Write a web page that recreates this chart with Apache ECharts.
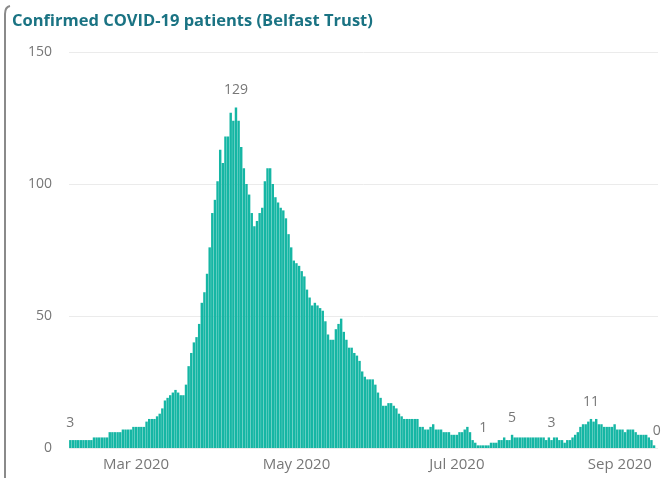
<!DOCTYPE html>
<html>
<head>
<meta charset="utf-8">
<script src="https://cdn.jsdelivr.net/npm/echarts@6/dist/echarts.min.js"></script>
<style>
html,body{margin:0;padding:0;background:#fff;}
#chart{width:661px;height:478px;}
</style>
</head>
<body>
<div id="chart"></div>
<script>
// ---- data ----
const titleText = 'Confirmed COVID-19 patients (Belfast Trust)';
const startDate = '2020-02-05';
const patients = [
  3,3,3,3,3,3,3,3,3,4,
  4,4,4,4,4,6,6,6,6,6,
  7,7,7,7,8,8,8,8,8,10,
  11,11,11,12,13,15,18,19,20,21,
  22,21,20,20,24,31,36,40,42,47,
  55,59,66,76,89,94,101,113,108,118,
  118,127,124,129,124,114,106,100,96,89,
  84,86,89,91,101,106,106,100,95,93,
  91,90,87,81,76,71,70,69,67,65,
  60,57,54,55,54,53,52,48,43,41,
  41,45,47,49,44,41,38,38,36,35,
  33,29,27,26,26,26,24,21,19,16,
  16,17,17,16,15,13,12,11,11,11,
  11,11,11,8,8,7,7,8,9,7,
  7,7,6,6,6,5,5,5,6,6,
  7,8,6,3,2,1,1,1,1,1,
  2,2,2,3,3,4,3,3,5,4,
  4,4,4,4,4,4,4,4,4,4,
  4,3,4,3,4,4,3,3,2,3,
  3,4,5,6,8,9,9,10,11,10,
  11,9,9,8,8,8,8,9,7,7,
  7,6,7,7,7,6,5,5,5,5,
  4,3,1,0
];
const tickDates = ['2020-03-01','2020-05-01','2020-07-01','2020-09-01'];
const tickLabels = ['Mar 2020','May 2020','Jul 2020','Sep 2020'];
const labelledDates = ['2020-02-05','2020-04-08','2020-07-11','2020-07-22','2020-08-06','2020-08-21','2020-09-15'];
const yMax = 150;
const yStep = 50;

// ---- build categories (one per day) ----
function isoDay(i){
  const d = new Date(startDate + 'T00:00:00Z');
  d.setUTCDate(d.getUTCDate() + i);
  return d.toISOString().slice(0,10);
}
const days = patients.map((v,i)=>isoDay(i));
const seriesData = patients.map((v,i)=>({
  value: v,
  label: { show: labelledDates.indexOf(days[i]) >= 0 }
}));

const font = '"Segoe UI","Open Sans","Noto Sans",sans-serif';
const chart = echarts.init(document.getElementById('chart'), null, {renderer:'canvas'});
chart.setOption({
  animation: false,
  backgroundColor: '#ffffff',
  title: {
    text: titleText,
    left: 7, top: 8,
    textStyle: { fontFamily: font, fontSize: 16.5, fontWeight: 'bold', color: '#1A7383' }
  },
  graphic: [
    { type: 'line', shape: { x1: 5, y1: 14, x2: 5, y2: 480 },
      style: { stroke: '#8a8a8a', lineWidth: 2 } },
    { type: 'bezierCurve', shape: { x1: 5, y1: 14, cpx1: 5, cpy1: 7, x2: 10, y2: 6 },
      style: { stroke: '#8a8a8a', lineWidth: 2, fill: null } }
  ],
  grid: { left: 69, right: 3, top: 52, bottom: 30, containLabel: false },
  xAxis: {
    type: 'category',
    data: days,
    boundaryGap: true,
    axisLine: { show: false },
    axisTick: { show: false },
    axisLabel: {
      interval: function(idx, val){ return tickDates.indexOf(val) >= 0; },
      formatter: function(val){ const k = tickDates.indexOf(val); return k >= 0 ? tickLabels[k] : ''; },
      color: '#777777', fontFamily: font, fontSize: 15, margin: 9
    },
    splitLine: { show: false }
  },
  yAxis: {
    type: 'value',
    min: 0, max: yMax, interval: yStep,
    axisLine: { show: false },
    axisTick: { show: false },
    axisLabel: { color: '#777777', fontFamily: font, fontSize: 14, margin: 17 },
    splitLine: { lineStyle: { color: '#ebebeb', width: 1 } }
  },
  series: [{
    type: 'bar',
    data: seriesData,
    barCategoryGap: '8%',
    itemStyle: { color: '#15B6A4' },
    label: {
      position: 'top', distance: 10,
      color: '#777777', fontFamily: font, fontSize: 14
    }
  }]
});
</script>
</body>
</html>
